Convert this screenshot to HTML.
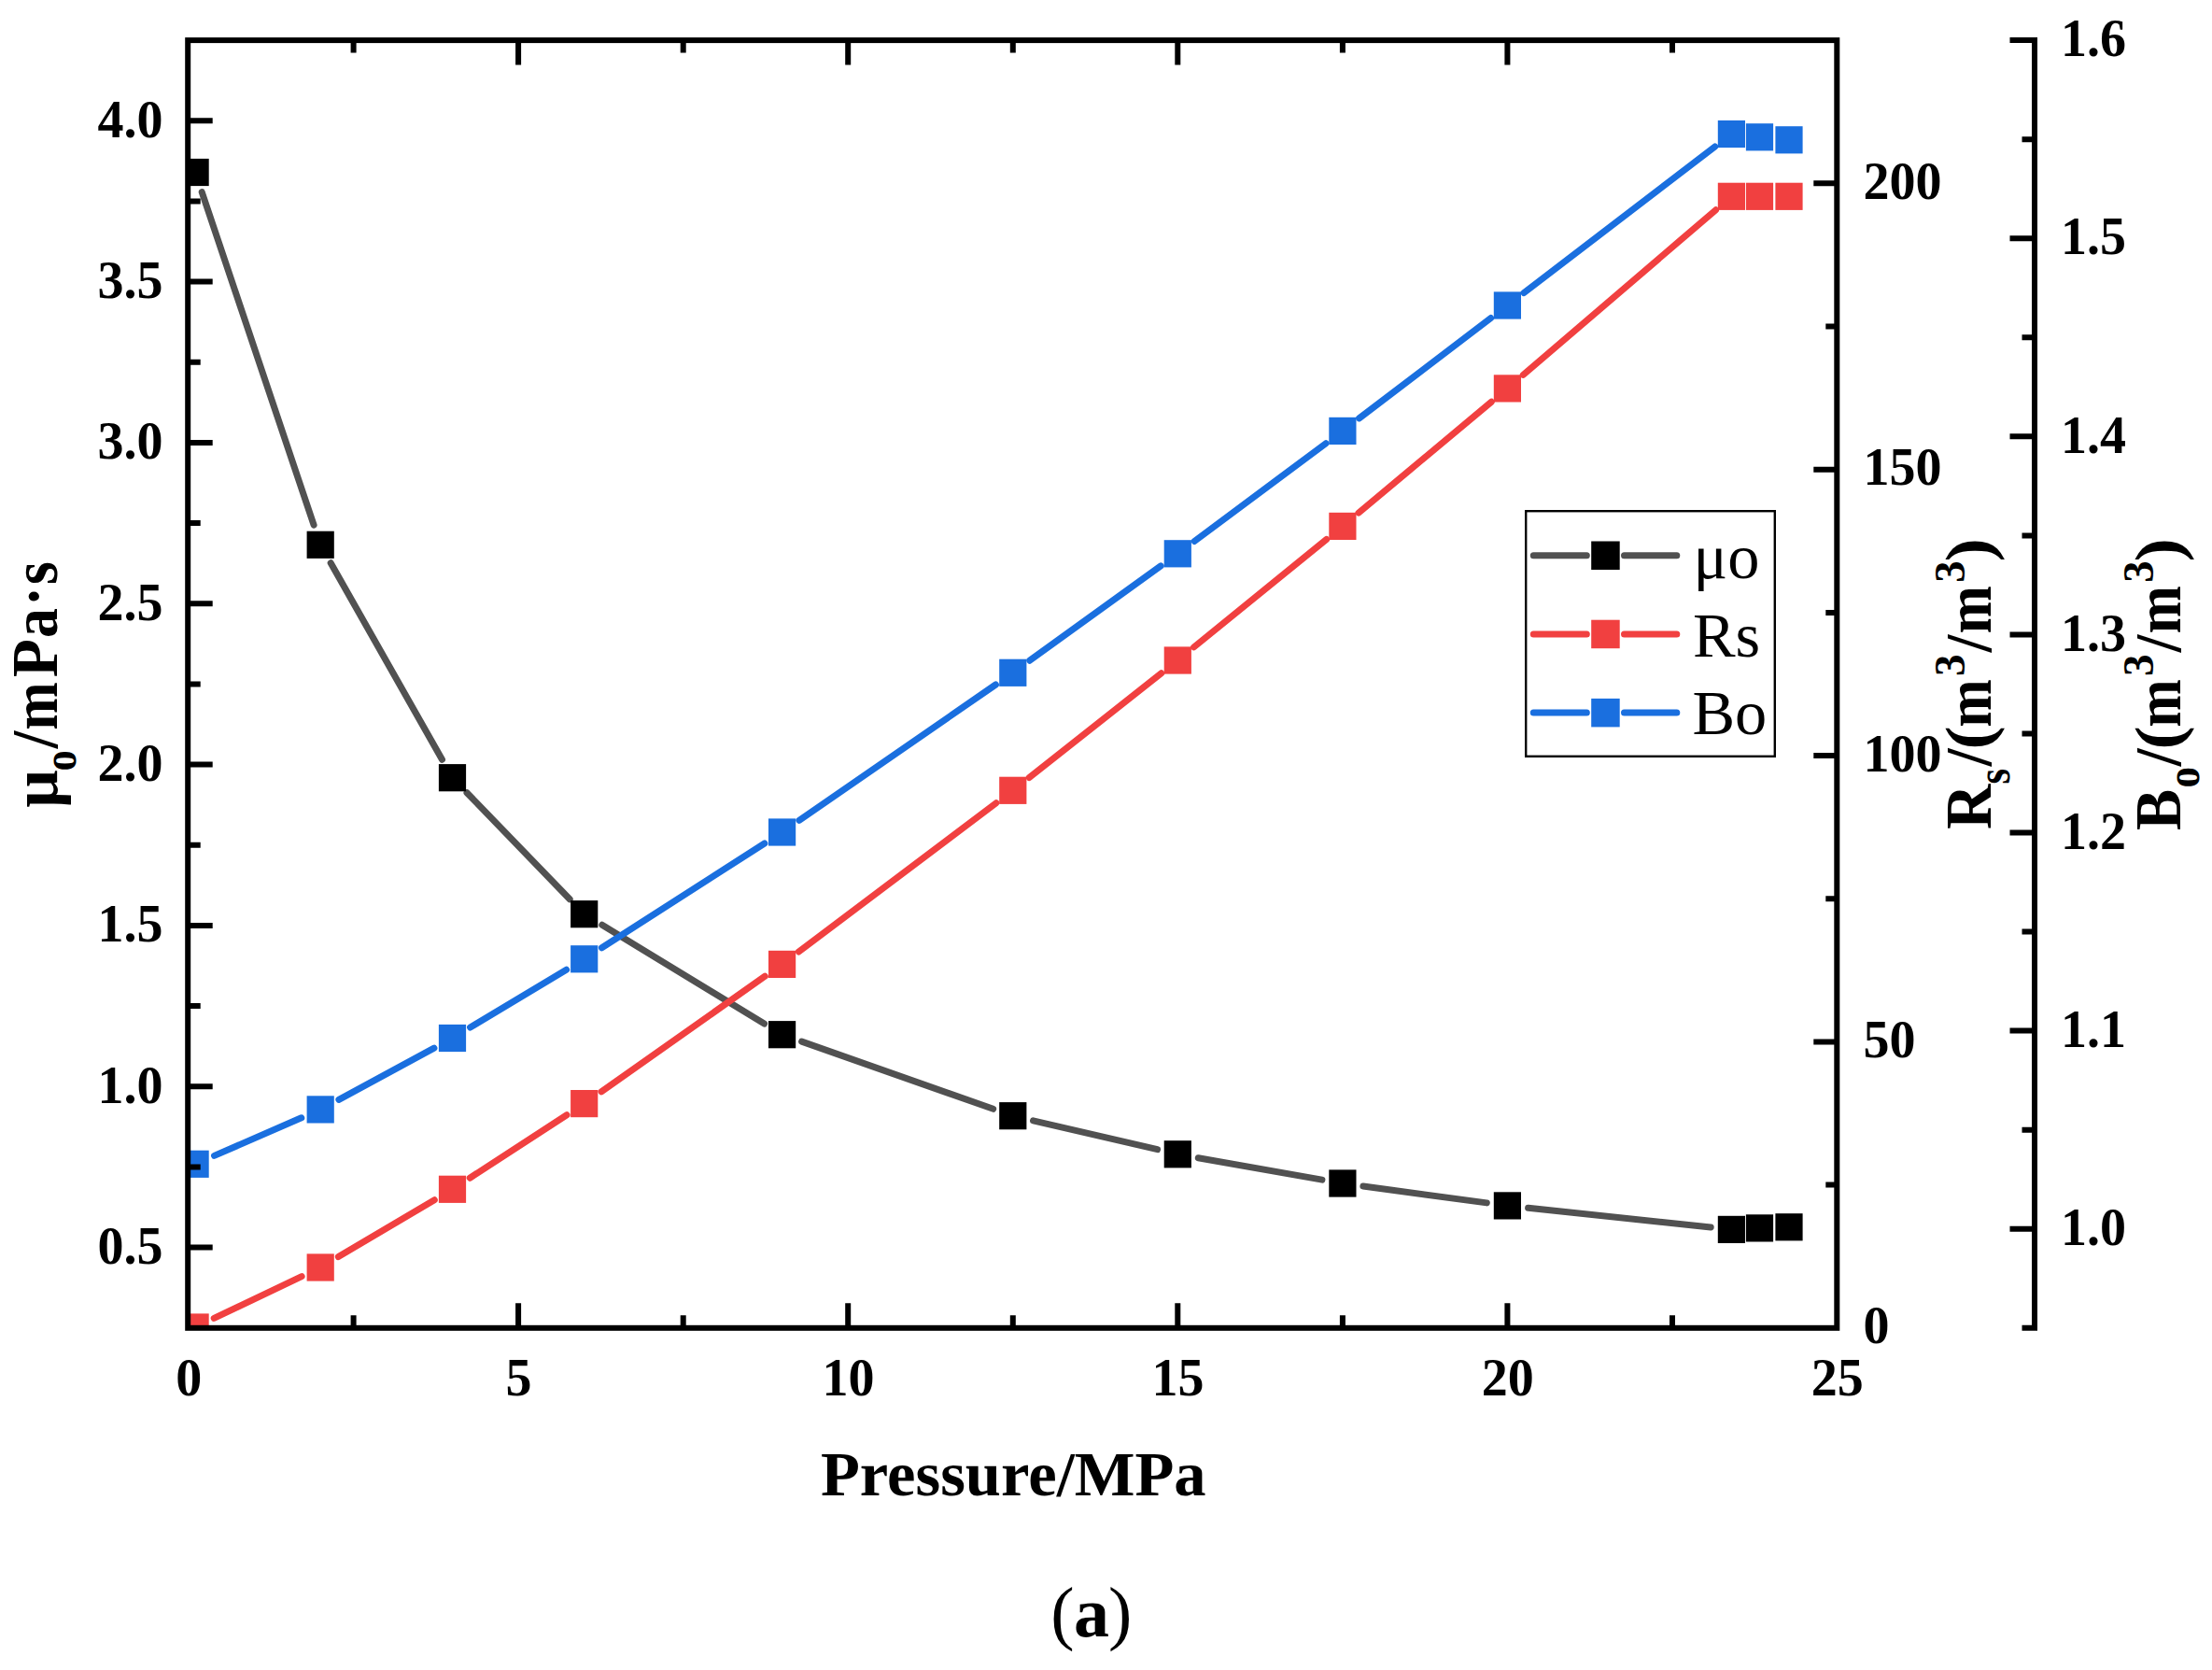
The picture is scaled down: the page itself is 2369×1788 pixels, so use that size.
<!DOCTYPE html>
<html lang="en"><head><meta charset="utf-8"><title>PVT chart (a)</title>
<style>html,body{margin:0;padding:0;background:#fff}svg{display:block}text{font-family:"Liberation Serif","Times New Roman",serif;fill:#000}.b{font-weight:bold}.t{font-size:56px;font-weight:bold}.ti{font-size:68.6px;font-weight:bold}.lg{font-size:68.4px}</style></head><body>
<svg width="2369" height="1788" viewBox="0 0 2369 1788">
<title>Oil PVT properties versus pressure (a)</title><desc>Line chart of μo/mPa·s, Rs/(m3/m3) and Bo/(m3/m3) versus Pressure/MPa. Legend: μo, Rs, Bo. Panel (a).</desc>
<rect width="2369" height="1788" fill="#fff"/>
<defs><clipPath id="pc"><rect x="201.2" y="43.1" width="1766.1" height="1378.7"/></clipPath></defs>
<g clip-path="url(#pc)">
<path d="M216.2 205.6L336.1 562.2M354.2 602.7L473.5 813.3M500.0 848.7L610.2 962.7M644.8 990.3L818.5 1096.1M858.6 1115.1L1063.7 1187.3M1106.5 1199.8L1239.6 1230.7M1283.3 1239.7L1415.9 1263.1M1459.9 1270.0L1592.3 1287.9M1636.6 1293.3L1832.2 1314.0" fill="none" stroke="#515151" stroke-width="7.0" stroke-linecap="round"/>
<rect x="194.5" y="169.9" width="29.2" height="29.2" fill="#000000"/>
<rect x="328.6" y="568.7" width="29.2" height="29.2" fill="#000000"/>
<rect x="469.9" y="818.1" width="29.2" height="29.2" fill="#000000"/>
<rect x="611.1" y="964.1" width="29.2" height="29.2" fill="#000000"/>
<rect x="823.0" y="1093.1" width="29.2" height="29.2" fill="#000000"/>
<rect x="1070.2" y="1180.1" width="29.2" height="29.2" fill="#000000"/>
<rect x="1246.7" y="1221.2" width="29.2" height="29.2" fill="#000000"/>
<rect x="1423.3" y="1252.4" width="29.2" height="29.2" fill="#000000"/>
<rect x="1599.8" y="1276.3" width="29.2" height="29.2" fill="#000000"/>
<rect x="1839.8" y="1301.8" width="29.2" height="29.2" fill="#000000"/>
<rect x="1869.9" y="1300.3" width="29.2" height="29.2" fill="#000000"/>
<rect x="1901.4" y="1299.2" width="29.2" height="29.2" fill="#000000"/>
<path d="M229.2 1411.4L323.1 1366.6M362.4 1345.6L465.3 1284.7M503.2 1261.2L607.0 1193.7M644.0 1168.8L819.3 1045.2M855.4 1019.0L1066.9 859.7M1102.3 832.5L1243.8 720.8M1278.6 692.9L1420.6 577.5M1455.0 549.1L1597.3 430.2M1631.3 401.4L1837.5 224.8" fill="none" stroke="#F14040" stroke-width="7.0" stroke-linecap="round"/>
<rect x="194.5" y="1406.4" width="29.2" height="29.2" fill="#F14040"/>
<rect x="328.6" y="1342.4" width="29.2" height="29.2" fill="#F14040"/>
<rect x="469.9" y="1258.7" width="29.2" height="29.2" fill="#F14040"/>
<rect x="611.1" y="1167.0" width="29.2" height="29.2" fill="#F14040"/>
<rect x="823.0" y="1017.8" width="29.2" height="29.2" fill="#F14040"/>
<rect x="1070.2" y="831.7" width="29.2" height="29.2" fill="#F14040"/>
<rect x="1246.7" y="692.4" width="29.2" height="29.2" fill="#F14040"/>
<rect x="1423.3" y="548.8" width="29.2" height="29.2" fill="#F14040"/>
<rect x="1599.8" y="401.3" width="29.2" height="29.2" fill="#F14040"/>
<rect x="1839.8" y="195.7" width="29.2" height="29.2" fill="#F14040"/>
<rect x="1869.9" y="195.7" width="29.2" height="29.2" fill="#F14040"/>
<rect x="1901.4" y="195.7" width="29.2" height="29.2" fill="#F14040"/>
<path d="M229.5 1237.4L322.8 1196.8M362.9 1177.3L464.9 1122.1M503.6 1100.0L606.6 1038.3M644.5 1014.8L818.8 903.0M855.9 878.3L1066.4 733.0M1102.8 707.2L1243.2 605.9M1279.2 579.5L1420.0 474.7M1455.6 447.9L1596.7 340.5M1632.1 313.5L1836.7 157.0" fill="none" stroke="#1A6FDF" stroke-width="7.0" stroke-linecap="round"/>
<rect x="194.5" y="1231.7" width="29.2" height="29.2" fill="#1A6FDF"/>
<rect x="328.6" y="1173.3" width="29.2" height="29.2" fill="#1A6FDF"/>
<rect x="469.9" y="1096.9" width="29.2" height="29.2" fill="#1A6FDF"/>
<rect x="611.1" y="1012.2" width="29.2" height="29.2" fill="#1A6FDF"/>
<rect x="823.0" y="876.4" width="29.2" height="29.2" fill="#1A6FDF"/>
<rect x="1070.2" y="705.7" width="29.2" height="29.2" fill="#1A6FDF"/>
<rect x="1246.7" y="578.2" width="29.2" height="29.2" fill="#1A6FDF"/>
<rect x="1423.3" y="446.8" width="29.2" height="29.2" fill="#1A6FDF"/>
<rect x="1599.8" y="312.4" width="29.2" height="29.2" fill="#1A6FDF"/>
<rect x="1839.8" y="128.9" width="29.2" height="29.2" fill="#1A6FDF"/>
<rect x="1869.9" y="132.2" width="29.2" height="29.2" fill="#1A6FDF"/>
<rect x="1901.4" y="135.2" width="29.2" height="29.2" fill="#1A6FDF"/>
</g>
<g stroke="#000" stroke-width="6.0" fill="none">
<rect x="201.2" y="43.1" width="1766.1" height="1378.7"/>
<path d="M378.6 1421.8v-13.5M378.6 43.1v13.5M555.1 1421.8v-26.5M555.1 43.1v26.5M731.7 1421.8v-13.5M731.7 43.1v13.5M908.2 1421.8v-26.5M908.2 43.1v26.5M1084.8 1421.8v-13.5M1084.8 43.1v13.5M1261.3 1421.8v-26.5M1261.3 43.1v26.5M1437.9 1421.8v-13.5M1437.9 43.1v13.5M1614.4 1421.8v-26.5M1614.4 43.1v26.5M1791.0 1421.8v-13.5M1791.0 43.1v13.5M201.2 1335.6h26.5M201.2 1249.5h13.5M201.2 1163.3h26.5M201.2 1077.1h13.5M201.2 991.0h26.5M201.2 904.8h13.5M201.2 818.6h26.5M201.2 732.4h13.5M201.2 646.3h26.5M201.2 560.1h13.5M201.2 473.9h26.5M201.2 387.8h13.5M201.2 301.6h26.5M201.2 215.4h13.5M201.2 129.3h26.5M1967.3 1268.6h-12.0M1967.3 1115.4h-25.0M1967.3 962.2h-12.0M1967.3 809.0h-25.0M1967.3 655.9h-12.0M1967.3 502.7h-25.0M1967.3 349.5h-12.0M1967.3 196.3h-25.0"/>
<path d="M2179.0 40.1V1424.8M2179.0 1421.8h-13.5M2179.0 1315.7h-26.5M2179.0 1209.7h-13.5M2179.0 1103.6h-26.5M2179.0 997.6h-13.5M2179.0 891.5h-26.5M2179.0 785.5h-13.5M2179.0 679.4h-26.5M2179.0 573.4h-13.5M2179.0 467.3h-26.5M2179.0 361.3h-13.5M2179.0 255.2h-26.5M2179.0 149.2h-13.5M2179.0 43.1h-26.5"/>
</g>
<g class="t">
<text x="174.5" y="1352.8" text-anchor="end">0.5</text>
<text x="174.5" y="1180.5" text-anchor="end">1.0</text>
<text x="174.5" y="1008.2" text-anchor="end">1.5</text>
<text x="174.5" y="835.8" text-anchor="end">2.0</text>
<text x="174.5" y="663.5" text-anchor="end">2.5</text>
<text x="174.5" y="491.1" text-anchor="end">3.0</text>
<text x="174.5" y="318.8" text-anchor="end">3.5</text>
<text x="174.5" y="146.5" text-anchor="end">4.0</text>
<text x="202.3" y="1494.3" text-anchor="middle">0</text>
<text x="555.4" y="1494.3" text-anchor="middle">5</text>
<text x="908.5" y="1494.3" text-anchor="middle">10</text>
<text x="1261.6" y="1494.3" text-anchor="middle">15</text>
<text x="1614.7" y="1494.3" text-anchor="middle">20</text>
<text x="1967.8" y="1494.3" text-anchor="middle">25</text>
<text x="1995.5" y="1438.4">0</text>
<text x="1995.5" y="1132.0">50</text>
<text x="1995.5" y="825.6">100</text>
<text x="1995.5" y="519.3">150</text>
<text x="1995.5" y="212.9">200</text>
<text x="2207" y="1332.9">1.0</text>
<text x="2207" y="1120.8">1.1</text>
<text x="2207" y="908.7">1.2</text>
<text x="2207" y="696.6">1.3</text>
<text x="2207" y="484.5">1.4</text>
<text x="2207" y="272.4">1.5</text>
<text x="2207" y="60.3">1.6</text>
</g>
<g class="ti">
<text x="1085.3" y="1601.3" text-anchor="middle">Pressure/MPa</text>
<text aria-label="μo/mPa·s" transform="translate(61.1 900.0) rotate(-90) scale(1 1.020)"><tspan x="35.3" y="0.0" textLength="40.5" lengthAdjust="spacingAndGlyphs">μ</tspan><tspan x="74.5" y="19.3" font-size="49.5" textLength="22.3" lengthAdjust="spacingAndGlyphs">o</tspan><tspan x="98.8" y="0.0" textLength="18.5" lengthAdjust="spacingAndGlyphs">/</tspan><tspan x="118.3" y="0.0" textLength="51.5" lengthAdjust="spacingAndGlyphs">m</tspan><tspan x="174.8" y="0.0" textLength="41.1" lengthAdjust="spacingAndGlyphs">P</tspan><tspan x="216.9" y="0.0" textLength="32.0" lengthAdjust="spacingAndGlyphs">a</tspan><tspan x="251.1" y="-1.6" textLength="21.0" lengthAdjust="spacingAndGlyphs">·</tspan><tspan x="274.0" y="0.0" textLength="24.7" lengthAdjust="spacingAndGlyphs">s</tspan></text>
<text aria-label="Rs/(m3/m3)" transform="translate(2132.1 900.0) rotate(-90) scale(1 1.020)"><tspan x="11.9" y="0.0" textLength="48.5" lengthAdjust="spacingAndGlyphs">R</tspan><tspan x="60.6" y="19.3" font-size="49.5" textLength="16.5" lengthAdjust="spacingAndGlyphs">s</tspan><tspan x="79.7" y="0.0" textLength="18.7" lengthAdjust="spacingAndGlyphs">/</tspan><tspan x="97.5" y="0.0" textLength="25.2" lengthAdjust="spacingAndGlyphs">(</tspan><tspan x="121.3" y="0.0" textLength="51.5" lengthAdjust="spacingAndGlyphs">m</tspan><tspan x="176.1" y="-27.9" font-size="46" textLength="23.6" lengthAdjust="spacingAndGlyphs">3</tspan><tspan x="201.8" y="0.0" textLength="18.6" lengthAdjust="spacingAndGlyphs">/</tspan><tspan x="221.4" y="0.0" textLength="51.4" lengthAdjust="spacingAndGlyphs">m</tspan><tspan x="276.3" y="-27.9" font-size="46" textLength="23.4" lengthAdjust="spacingAndGlyphs">3</tspan><tspan x="298.4" y="0.0" textLength="25.3" lengthAdjust="spacingAndGlyphs">)</tspan></text>
<text aria-label="Bo/(m3/m3)" transform="translate(2334.9 900.0) rotate(-90) scale(1 1.020)"><tspan x="10.9" y="0.0" textLength="44.1" lengthAdjust="spacingAndGlyphs">B</tspan><tspan x="56.4" y="19.3" font-size="49.5" textLength="22.4" lengthAdjust="spacingAndGlyphs">o</tspan><tspan x="79.7" y="0.0" textLength="18.7" lengthAdjust="spacingAndGlyphs">/</tspan><tspan x="97.5" y="0.0" textLength="25.2" lengthAdjust="spacingAndGlyphs">(</tspan><tspan x="121.3" y="0.0" textLength="51.5" lengthAdjust="spacingAndGlyphs">m</tspan><tspan x="176.1" y="-27.9" font-size="46" textLength="23.6" lengthAdjust="spacingAndGlyphs">3</tspan><tspan x="201.8" y="0.0" textLength="18.6" lengthAdjust="spacingAndGlyphs">/</tspan><tspan x="221.4" y="0.0" textLength="51.4" lengthAdjust="spacingAndGlyphs">m</tspan><tspan x="276.3" y="-27.9" font-size="46" textLength="23.4" lengthAdjust="spacingAndGlyphs">3</tspan><tspan x="298.4" y="0.0" textLength="25.3" lengthAdjust="spacingAndGlyphs">)</tspan></text>
</g>
<text x="1125.2" y="1752.3" font-size="76">(<tspan class="b" x="1149.9">a</tspan><tspan x="1186.9">)</tspan></text>
<rect x="1634.2" y="547.2" width="266.6" height="262.6" fill="#fff" stroke="#000" stroke-width="2.4"/>
<path d="M1642.3 594.7H1699.3M1739.5 594.7H1795.8" stroke="#515151" stroke-width="7" stroke-linecap="round" fill="none"/>
<rect x="1704.2" y="579.5" width="30.5" height="30.5" fill="#000"/>
<text class="lg" x="1813.5" y="618.7">μo</text>
<path d="M1642.3 678.9H1699.3M1739.5 678.9H1795.8" stroke="#F14040" stroke-width="7" stroke-linecap="round" fill="none"/>
<rect x="1704.2" y="663.7" width="30.5" height="30.5" fill="#F14040"/>
<text class="lg" x="1813.0" y="702.5">Rs</text>
<path d="M1642.3 763.1H1699.3M1739.5 763.1H1795.8" stroke="#1A6FDF" stroke-width="7" stroke-linecap="round" fill="none"/>
<rect x="1704.2" y="747.9" width="30.5" height="30.5" fill="#1A6FDF"/>
<text class="lg" x="1812.5" y="786.3">Bo</text>
</svg></body></html>
